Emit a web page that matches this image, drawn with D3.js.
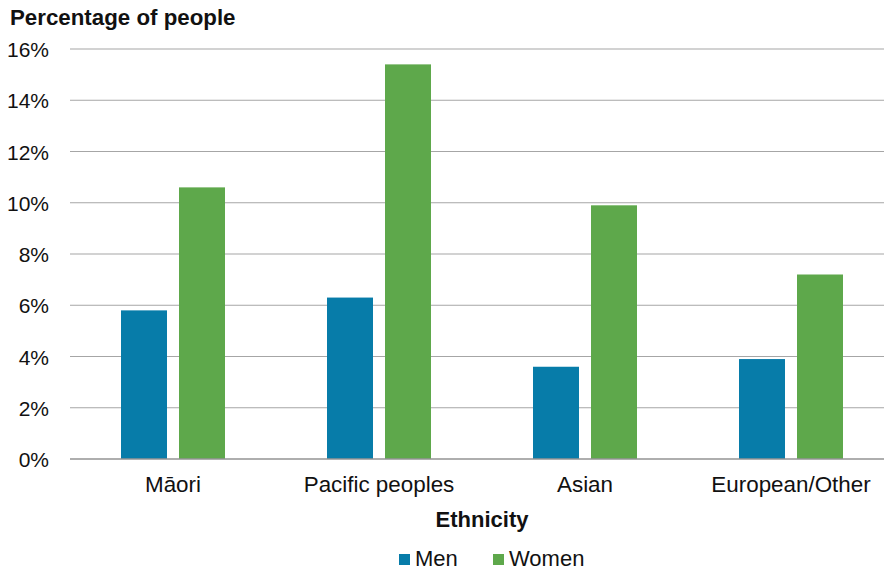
<!DOCTYPE html>
<html>
<head>
<meta charset="utf-8">
<script src="https://cdn.jsdelivr.net/npm/d3@7"></script>
<style>
  html, body { margin: 0; padding: 0; background: #fff; }
  svg { display: block; font-family: "Liberation Sans", Arial, sans-serif; }
</style>
</head>
<body>
<svg id="chart" width="884" height="570"></svg>
<script>
// Share of people by ethnicity and sex (percent)
const categories = ["Māori", "Pacific peoples", "Asian", "European/Other"];
const seriesNames = ["Men", "Women"];
const menValues = [5.8, 6.3, 3.6, 3.9];
const womenValues = [10.6, 15.4, 9.9, 7.2];
const yTicks = [0, 2, 4, 6, 8, 10, 12, 14, 16];
const colors = ["#077ca9", "#5ea84b"];

const seriesValues = [menValues, womenValues];
const rows = categories.map((c, i) => ({
  category: c,
  values: seriesNames.map((s, j) => ({ series: s, value: seriesValues[j][i] }))
}));

const svg = d3.select("#chart");
const plot = { left: 70, right: 894, top: 49, bottom: 459 };

const x0 = d3.scaleBand().domain(categories).range([plot.left, plot.right]).padding(0);
const x1 = d3.scaleBand().domain(seriesNames).range([-52, 52]).paddingInner(0.207).paddingOuter(0);
const y = d3.scaleLinear().domain([0, 16]).range([plot.bottom, plot.top]);
const color = d3.scaleOrdinal().domain(seriesNames).range(colors);

// Horizontal gridlines
svg.append("g")
  .selectAll("line")
  .data(yTicks.filter(t => t !== 0))
  .join("line")
  .attr("x1", plot.left).attr("x2", plot.right)
  .attr("y1", d => y(d)).attr("y2", d => y(d))
  .attr("stroke", "#a6a6a6").attr("stroke-width", 1.2);

// Y axis tick labels
const yAxis = d3.axisLeft(y).tickValues(yTicks).tickFormat(d => d + "%").tickSize(0).tickPadding(0);
const yg = svg.append("g").attr("transform", "translate(49,0)").call(yAxis);
yg.select(".domain").remove();
yg.selectAll("text")
  .attr("font-size", 21).attr("fill", "#111")
  .attr("font-family", "Liberation Sans, Arial, sans-serif")
  .attr("dy", "0.36em");

// Bars
const groups = svg.append("g")
  .selectAll("g")
  .data(rows)
  .join("g")
  .attr("transform", d => `translate(${x0(d.category) + x0.bandwidth() / 2},0)`);

groups.selectAll("rect")
  .data(d => d.values)
  .join("rect")
  .attr("x", d => x1(d.series))
  .attr("width", x1.bandwidth())
  .attr("y", d => y(d.value))
  .attr("height", d => y(0) - y(d.value))
  .attr("fill", d => color(d.series));

// Baseline
svg.append("line")
  .attr("x1", plot.left).attr("x2", plot.right)
  .attr("y1", y(0)).attr("y2", y(0))
  .attr("stroke", "#939393").attr("stroke-width", 1.6);

// Category labels
const xAxis = d3.axisBottom(x0).tickSize(0).tickPadding(0);
const xg = svg.append("g").attr("transform", `translate(0,${plot.bottom})`).call(xAxis);
xg.select(".domain").remove();
xg.selectAll("text")
  .attr("font-size", 22.4).attr("fill", "#111")
  .attr("font-family", "Liberation Sans, Arial, sans-serif")
  .attr("y", 33).attr("dy", 0);

// Titles
svg.append("text")
  .attr("x", 10).attr("y", 25)
  .attr("font-size", 22.3).attr("font-weight", "bold").attr("fill", "#111")
  .text("Percentage of people");

svg.append("text")
  .attr("x", (plot.left + plot.right) / 2).attr("y", 527)
  .attr("text-anchor", "middle")
  .attr("font-size", 22).attr("font-weight", "bold").attr("fill", "#111")
  .text("Ethnicity");

// Legend
const legendX = [399, 493];
const legend = svg.append("g")
  .selectAll("g")
  .data(seriesNames)
  .join("g")
  .attr("transform", (d, i) => `translate(${legendX[i]},0)`);
legend.append("rect")
  .attr("x", 0).attr("y", 554).attr("width", 11).attr("height", 11)
  .attr("fill", d => color(d));
legend.append("text")
  .attr("x", 16).attr("y", 566)
  .attr("font-size", 22).attr("fill", "#111")
  .text(d => d);
</script>
</body>
</html>
